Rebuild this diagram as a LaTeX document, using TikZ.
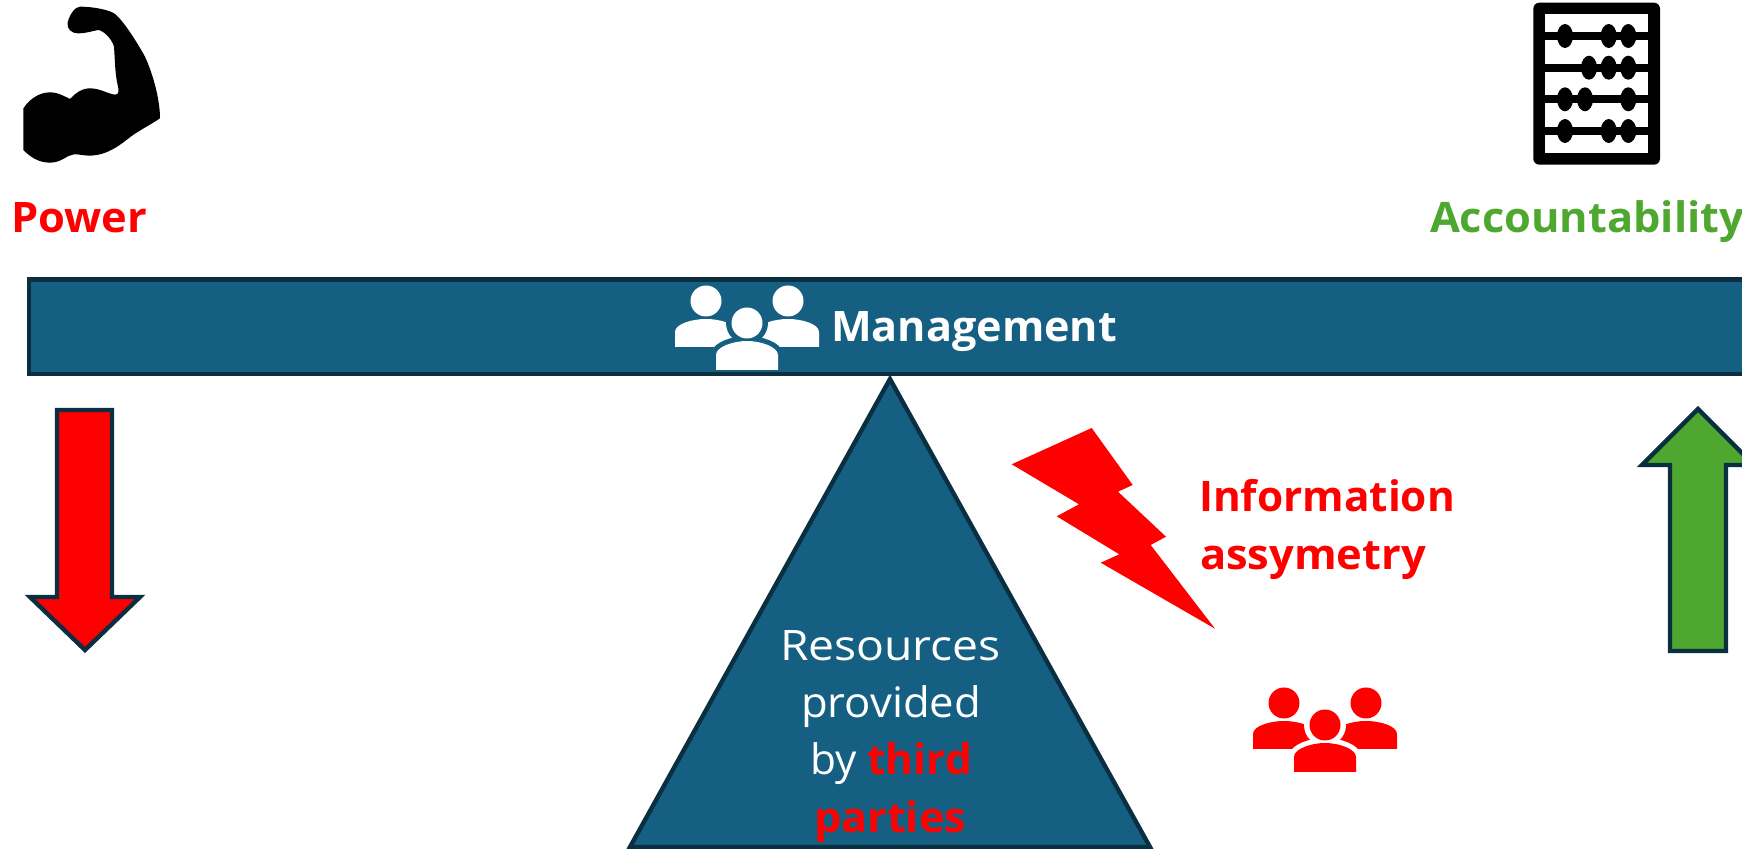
\documentclass[tikz,border=0pt]{standalone}
\usepackage{graphicx}
\usepackage{fontspec}
\setmainfont{Open Sans}
\definecolor{barblue}{HTML}{156082}
\definecolor{darkedge}{HTML}{0A2F41}
\definecolor{okgreen}{HTML}{4EA72E}
\definecolor{alarm}{HTML}{FF0000}
\tikzset{
  shapeedge/.style={draw=darkedge,line width=2.2pt,miter limit=10},
  lbl/.style={inner sep=0pt,outer sep=0pt,anchor=base west,font=\fontsize{21}{25}\selectfont},
  lblbold/.style={lbl,font=\fontsize{21}{25}\selectfont\bfseries},
}
\newcommand{\people}[4]{%
  \begin{scope}[shift={(#1,#2)}]
    \fill[#3] (-41,-22) circle [x radius=15.5,y radius=-15.5];
    \fill[#3] (41,-22) circle [x radius=15.5,y radius=-15.5];
    \fill[#3] (-72,24) -- (-72,9) .. controls (-72,1) and (-55,-4) .. (-41,-4)
       .. controls (-27,-4) and (-10,1) .. (-10,9) -- (-10,24) -- cycle;
    \fill[#3] (72,24) -- (72,9) .. controls (72,1) and (55,-4) .. (41,-4)
       .. controls (27,-4) and (10,1) .. (10,9) -- (10,24) -- cycle;
    \fill[#4] (0,0) circle [x radius=21,y radius=-21];
    \draw[#4,line width=5pt] (-31,32) .. controls (-31,24) and (-14,18) .. (0,18)
       .. controls (14,18) and (31,24) .. (31,32);
    \fill[#3] (-31,47) -- (-31,32) .. controls (-31,24) and (-14,18) .. (0,18)
       .. controls (14,18) and (31,24) .. (31,32) -- (31,47) -- cycle;
    \fill[#3] (0,0) circle [x radius=15.5,y radius=-15.5];
  \end{scope}}
\begin{document}
\begin{tikzpicture}[x=0.5pt,y=-0.5pt]
\useasboundingbox (0,0) rectangle (1742,849);
\clip (0,0) rectangle (1742,849);
% bar and fulcrum
\draw[shapeedge,fill=barblue] (29,279.5) rectangle (1760,374);
\draw[shapeedge,fill=barblue,line join=miter] (890,379) -- (1150,847) -- (630,847) -- cycle;
% arrows
\draw[shapeedge,fill=alarm] (57,410) -- (112,410) -- (112,597) -- (140,597) -- (85,650) -- (30,597) -- (57,597) -- cycle;
\draw[shapeedge,fill=okgreen] (1670,651) -- (1726,651) -- (1726,465) -- (1754,465) -- (1698,409) -- (1642,465) -- (1670,465) -- cycle;
% bolt
\fill[alarm] (1091.7,428) -- (1132.7,485) -- (1118,491.7) -- (1166,536.7) -- (1150.7,545) -- (1215,628.7) -- (1100.7,562.7) -- (1119.3,554.3) -- (1056.7,516.3) -- (1079,504.3) -- (1011.7,464.3) -- cycle;
% people
\people{747}{323}{white}{barblue}
\people{1325}{725}{alarm}{white}
% arm
\begin{scope}[x=0.1666667pt,y=-0.1666667pt]
\fill[black] (70,325) .. controls (90,295) and (120,277) .. (150,277)
  .. controls (175,277) and (195,290) .. (210,297)
  .. controls (225,280) and (245,265) .. (270,265)
  .. controls (300,265) and (325,282) .. (345,284)
  .. controls (358,285) and (357,270) .. (352,250)
  .. controls (345,220) and (345,180) .. (342,140)
  .. controls (335,115) and (310,92) .. (295,90)
  .. controls (280,92) and (260,100) .. (235,100)
  .. controls (212,100) and (200,85) .. (203,68)
  .. controls (208,45) and (225,20) .. (240,20)
  .. controls (280,20) and (330,30) .. (345,42)
  .. controls (370,62) and (410,125) .. (435,170)
  .. controls (460,225) and (480,300) .. (480,355)
  .. controls (450,375) and (420,390) .. (395,408)
  .. controls (360,435) and (325,465) .. (270,467)
  .. controls (250,467) and (235,462) .. (222,463)
  .. controls (200,465) and (185,488) .. (150,488)
  .. controls (115,488) and (90,470) .. (70,450) -- cycle;
\end{scope}
% abacus
\fill[black,rounded corners=3pt] (1533.3,2.7) rectangle (1660,164.7);
\fill[white] (1545.3,14.3) rectangle (1648.3,153);
\foreach \yy in {36,67.7,99.3,131} \fill[black] (1545,\yy-4) rectangle (1649,\yy+4);
\foreach \xx/\yy in {1565/36,1608.7/36,1628.3/36,1589/67.7,1608.7/67.7,1628.3/67.7,1565/99.3,1585/99.3,1628.3/99.3,1565/131,1608.7/131,1628.3/131}
  \fill[black] (\xx,\yy) circle [x radius=8,y radius=-12];
% texts
\node[lblbold,text=alarm] (power) at (11,233) {\resizebox{68pt}{\height}{Power}};
\node[lblbold,text=okgreen] (account) at (1430,233) {\resizebox{157pt}{\height}{Accountability}};
\node[lblbold,text=white] (mgmt) at (831,342) {\resizebox{143pt}{\height}{Management}};
\node[lblbold,text=alarm] (info) at (1199,512) {\resizebox{128pt}{\height}{Information}};
\node[lblbold,text=alarm] (assy) at (1200,570) {\resizebox{113pt}{\height}{assymetry}};
\node[lbl,text=white] (res) at (780,661) {\resizebox{110.5pt}{\height}{Resources}};
\node[lbl,text=white] (prov) at (801,718) {\resizebox{90pt}{\height}{provided}};
\node[lbl,text=white] (byt) at (810,775) {\resizebox{81pt}{\height}{by \textcolor{alarm}{\bfseries third}}};
\node[lblbold,text=alarm] (part) at (814,833) {\resizebox{76pt}{\height}{parties}};
\end{tikzpicture}
\end{document}
